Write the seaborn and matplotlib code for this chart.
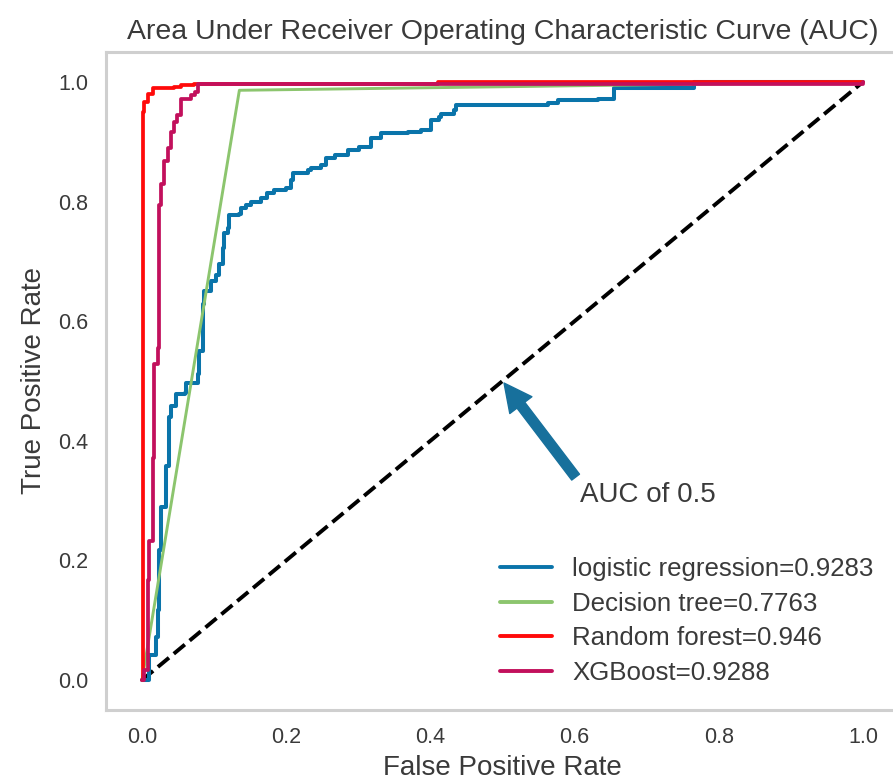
import matplotlib
matplotlib.use("Agg")
import matplotlib.pyplot as plt
import seaborn as sns
import pandas as pd

# ---- data ----
lr_fpr = [0.0, 0.010, 0.020, 0.022, 0.024, 0.026, 0.033, 0.038, 0.040, 0.047, 0.059,
          0.061, 0.077, 0.079, 0.084, 0.086, 0.096, 0.103, 0.107, 0.112, 0.114, 0.119,
          0.121, 0.135, 0.137, 0.144, 0.151, 0.165, 0.174, 0.183, 0.200, 0.207, 0.209,
          0.230, 0.235, 0.248, 0.255, 0.267, 0.285, 0.301, 0.318, 0.331, 0.369, 0.387,
          0.401, 0.412, 0.415, 0.433, 0.436, 0.563, 0.577, 0.632, 0.655, 0.766, 1.0]
lr_tpr = [0.0, 0.042, 0.072, 0.117, 0.217, 0.289, 0.358, 0.439, 0.458, 0.478, 0.480,
          0.497, 0.511, 0.550, 0.628, 0.650, 0.667, 0.678, 0.695, 0.722, 0.747, 0.755,
          0.778, 0.780, 0.789, 0.794, 0.800, 0.806, 0.814, 0.819, 0.822, 0.836, 0.847,
          0.853, 0.856, 0.861, 0.872, 0.878, 0.886, 0.892, 0.906, 0.914, 0.917, 0.919,
          0.936, 0.942, 0.947, 0.953, 0.961, 0.964, 0.969, 0.972, 0.989, 1.0, 1.0]

dt_fpr = [0.0, 0.135, 1.0]
dt_tpr = [0.0, 0.986, 1.0]

rf_fpr = [0.0, 0.001, 0.003, 0.008, 0.015, 0.045, 0.054, 0.072, 0.41, 1.0]
rf_tpr = [0.0, 0.950, 0.967, 0.980, 0.989, 0.992, 0.994, 0.997, 1.0, 1.0]

xgb_fpr = [0.0, 0.003, 0.008, 0.010, 0.015, 0.017, 0.022, 0.024, 0.026, 0.031, 0.036,
           0.040, 0.045, 0.049, 0.054, 0.068, 0.073, 0.077, 1.0]
xgb_tpr = [0.0, 0.017, 0.167, 0.233, 0.372, 0.528, 0.555, 0.795, 0.830, 0.867, 0.889,
           0.917, 0.933, 0.944, 0.972, 0.978, 0.983, 0.996, 1.0]

labels = ["logistic regression=0.9283", "Decision tree=0.7763",
          "Random forest=0.946", "XGBoost=0.9288"]
colors = ["#0a74aa", "#8cc56e", "#ff0a0a", "#c2105c"]
ticks = [0.0, 0.2, 0.4, 0.6, 0.8, 1.0]
tick_labels = ["0.0", "0.2", "0.4", "0.6", "0.8", "1.0"]

sns.set_theme(style="white")
plt.rcParams["font.family"] = ["Liberation Sans", "DejaVu Sans"]
txt = "#3a3a3a"

fig = plt.figure(figsize=(8.93, 7.82), dpi=100)
ax = fig.add_axes([106 / 893, 72 / 782, 793 / 893, 658 / 782])

series = [(lr_fpr, lr_tpr, "steps-post", 2.9),
          (dt_fpr, dt_tpr, "default", 2.1),
          (rf_fpr, rf_tpr, "steps-post", 2.7),
          (xgb_fpr, xgb_tpr, "steps-post", 2.7)]
for (fx, ty, ds, lw), lab, col in zip(series, labels, colors):
    df = pd.DataFrame({"fpr": fx, "tpr": ty})
    sns.lineplot(data=df, x="fpr", y="tpr", ax=ax, estimator=None, sort=False,
                 color=col, lw=lw, drawstyle=ds, label=lab)

ax.plot([0, 1], [0, 1], color="black", ls="--", lw=2.8, zorder=1)

ax.annotate("AUC of 0.5", xy=(0.5, 0.5), xytext=(0.607, 0.297),
            fontsize=20, color=txt,
            arrowprops=dict(facecolor="#17709c", edgecolor="#17709c",
                            shrink=0.02, width=7, headwidth=20, headlength=20))

ax.set_xlim(-0.05, 1.05)
ax.set_ylim(-0.05, 1.05)
ax.set_xticks(ticks)
ax.set_xticklabels(tick_labels)
ax.set_yticks(ticks)
ax.set_yticklabels(tick_labels)
ax.tick_params(axis="both", length=0, labelsize=15.5, labelcolor=txt)
ax.tick_params(axis="x", pad=12)
ax.tick_params(axis="y", pad=13)
ax.set_xlabel("False Positive Rate", fontsize=20, color=txt, labelpad=5)
ax.set_ylabel("True Positive Rate", fontsize=20, color=txt, labelpad=8)
ax.set_title("Area Under Receiver Operating Characteristic Curve (AUC)",
             fontsize=20.5, color=txt, pad=9)
ax.grid(False)
for s in ax.spines.values():
    s.set_color("#cfcfcf")
    s.set_linewidth(2.2)

leg = ax.legend(loc="lower left", bbox_to_anchor=(0.534, 0.094),
                bbox_transform=fig.transFigure, frameon=False,
                fontsize=18.6, handlelength=2.0, labelspacing=0.42,
                handletextpad=0.8)
for t in leg.get_texts():
    t.set_color(txt)
for h in leg.get_lines():
    h.set_linewidth(2.8)

fig.savefig("out.png", dpi=100)
